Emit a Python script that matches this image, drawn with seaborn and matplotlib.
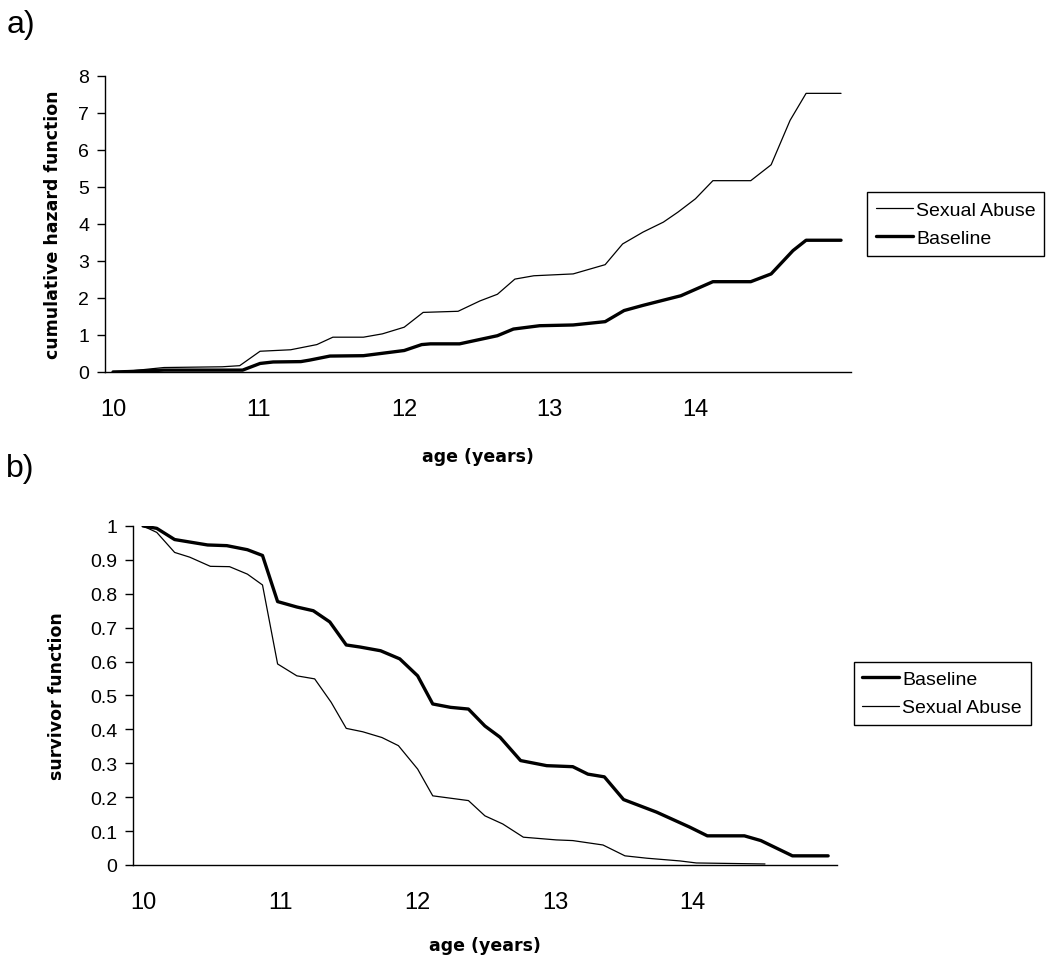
import pandas as pd
import matplotlib
matplotlib.use("Agg")
import matplotlib.pyplot as plt
from matplotlib.ticker import FuncFormatter
import seaborn as sns

# (a) cumulative hazard function
haz_age_abuse = [10.0, 10.1, 10.35, 10.75, 10.87, 11.01, 11.22, 11.40, 11.51, 11.72,
                 11.85, 12.0, 12.13, 12.37, 12.52, 12.64, 12.76, 12.89, 13.16, 13.38,
                 13.50, 13.64, 13.78, 13.88, 14.0, 14.12, 14.38, 14.52, 14.65, 14.76, 15.0]
haz_abuse = [0.0, 0.02, 0.12, 0.14, 0.17, 0.56, 0.60, 0.74, 0.94, 0.94,
             1.03, 1.21, 1.61, 1.64, 1.92, 2.10, 2.51, 2.60, 2.65, 2.90,
             3.46, 3.78, 4.05, 4.32, 4.68, 5.17, 5.17, 5.60, 6.80, 7.53, 7.53]

haz_age_base = [10.0, 10.1, 10.35, 10.89, 11.01, 11.10, 11.29, 11.35, 11.49, 11.72,
                11.84, 12.0, 12.12, 12.18, 12.38, 12.64, 12.75, 12.93, 13.16, 13.38,
                13.51, 13.64, 13.90, 14.12, 14.38, 14.52, 14.67, 14.76, 15.0]
haz_base = [0.0, 0.01, 0.05, 0.05, 0.23, 0.27, 0.28, 0.32, 0.43, 0.44,
            0.50, 0.58, 0.74, 0.76, 0.76, 0.98, 1.16, 1.25, 1.27, 1.36,
            1.66, 1.80, 2.06, 2.44, 2.44, 2.65, 3.28, 3.56, 3.56]

# (b) survivor function
surv_age_base = [10.0, 10.1, 10.23, 10.47, 10.61, 10.76, 10.87, 10.98, 11.12, 11.24,
                 11.36, 11.48, 11.58, 11.73, 11.87, 12.0, 12.11, 12.24, 12.37, 12.49,
                 12.6, 12.75, 12.94, 13.13, 13.24, 13.36, 13.5, 13.74, 13.98, 14.11,
                 14.38, 14.5, 14.73, 14.99]
surv_base = [1.0, 0.993, 0.96, 0.944, 0.942, 0.93, 0.913, 0.777, 0.761, 0.75,
             0.717, 0.649, 0.643, 0.632, 0.608, 0.558, 0.475, 0.465, 0.46, 0.41,
             0.377, 0.308, 0.293, 0.29, 0.268, 0.26, 0.193, 0.156, 0.112, 0.086,
             0.086, 0.072, 0.027, 0.027]

surv_age_abuse = [10.0, 10.1, 10.23, 10.34, 10.49, 10.63, 10.76, 10.87, 10.98, 11.12,
                  11.25, 11.37, 11.48, 11.6, 11.74, 11.86, 12.0, 12.11, 12.24, 12.37,
                  12.49, 12.62, 12.77, 13.01, 13.13, 13.35, 13.51, 13.67, 13.91, 14.03,
                  14.53]
surv_abuse = [1.0, 0.981, 0.922, 0.908, 0.881, 0.88, 0.858, 0.826, 0.593, 0.558,
              0.549, 0.48, 0.403, 0.393, 0.376, 0.352, 0.283, 0.204, 0.197, 0.19,
              0.145, 0.121, 0.082, 0.074, 0.072, 0.059, 0.027, 0.02, 0.012, 0.006,
              0.003]

year_ticks = [10, 11, 12, 13, 14]

sns.set_style("white")
plt.rcParams["font.family"] = ["Liberation Sans", "DejaVu Sans"]
plt.rcParams["text.color"] = "black"
plt.rcParams["axes.labelcolor"] = "black"
plt.rcParams["xtick.color"] = "black"
plt.rcParams["ytick.color"] = "black"

fig = plt.figure(figsize=(10.5, 9.62), dpi=100)
ax1 = fig.add_axes([0.100, 0.6123, 0.710, 0.3077])
ax2 = fig.add_axes([0.1267, 0.0998, 0.6705, 0.3524])

thin, thick = 0.9, 2.4

# top panel
sns.lineplot(x=haz_age_abuse, y=haz_abuse, ax=ax1, color="black", linewidth=thin,
             label="Sexual Abuse", estimator=None, sort=False)
sns.lineplot(x=haz_age_base, y=haz_base, ax=ax1, color="black", linewidth=thick,
             label="Baseline", estimator=None, sort=False)
ax1.set_xlim(9.945, 15.065)
ax1.set_ylim(0, 8)
ax1.set_yticks(range(0, 9))

# bottom panel
sns.lineplot(x=surv_age_base, y=surv_base, ax=ax2, color="black", linewidth=thick,
             label="Baseline", estimator=None, sort=False)
sns.lineplot(x=surv_age_abuse, y=surv_abuse, ax=ax2, color="black", linewidth=thin,
             label="Sexual Abuse", estimator=None, sort=False)
ax2.set_xlim(9.927, 15.055)
ax2.set_ylim(0, 1)
ax2.set_yticks([i / 10 for i in range(11)])
ax2.yaxis.set_major_formatter(FuncFormatter(lambda v, p: f"{v:g}"))

for ax, ylab, ylx in [(ax1, "cumulative hazard function", -0.058),
                      (ax2, "survivor function", -0.095)]:
    sns.despine(ax=ax)
    ax.spines["left"].set_color("black")
    ax.spines["bottom"].set_color("black")
    ax.spines["left"].set_linewidth(1.0)
    ax.spines["bottom"].set_linewidth(1.0)
    ax.set_xticks(year_ticks)
    ax.tick_params(axis="x", length=0, pad=19, labelsize=17)
    ax.tick_params(axis="y", length=5.5, width=1, color="black", direction="out",
                   left=True, pad=6, labelsize=14)
    ax.set_xlabel("age (years)", fontsize=12.5, fontweight="bold", family="DejaVu Sans")
    ax.set_ylabel(ylab, fontsize=12.5, fontweight="bold", family="DejaVu Sans")
    ax.yaxis.set_label_coords(ylx, 0.5)
    ax.xaxis.set_label_coords(0.5, -0.255 if ax is ax1 else -0.21)
    ax.legend_.remove()

leg_kw = dict(frameon=True, fancybox=False, framealpha=1, edgecolor="black",
              fontsize=14, handlelength=1.9, handletextpad=0.15, labelspacing=0.55,
              borderpad=0.45, borderaxespad=0, loc="upper left",
              bbox_transform=fig.transFigure)
h1, l1 = ax1.get_legend_handles_labels()
lg1 = ax1.legend(h1, l1, bbox_to_anchor=(0.826, 0.799), **leg_kw)
lg1.get_frame().set_linewidth(1.0)
h2, l2 = ax2.get_legend_handles_labels()
lg2 = ax2.legend(h2, l2, bbox_to_anchor=(0.813, 0.311), **leg_kw)
lg2.get_frame().set_linewidth(1.0)

fig.text(0.006, 0.99, "a)", fontsize=23, va="top", ha="left")
fig.text(0.006, 0.528, "b)", fontsize=23, va="top", ha="left")

fig.savefig("out.png", dpi=100)
